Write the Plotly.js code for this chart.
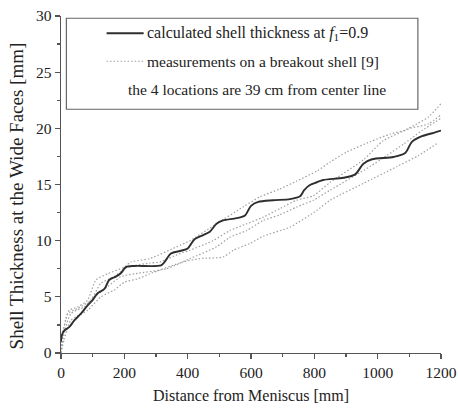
<!DOCTYPE html>
<html>
<head>
<meta charset="utf-8">
<script src="https://cdn.plot.ly/plotly-3.0.1.min.js"></script>
<style>html,body{margin:0;padding:0;background:#fff;}#chart{width:458px;height:411px;}</style>
</head>
<body>
<div id="chart"></div>
<script>
// Calculated shell thickness (solid line)
const calcX = [0, 3, 10, 26, 42, 63, 84, 100, 115, 137, 152, 173, 189, 205, 232, 316, 327, 347, 379, 400, 421, 449, 470, 491, 512, 554, 581, 600, 623, 670, 723, 755, 768, 786, 808, 828, 892, 929, 955, 982, 1050, 1087, 1108, 1140, 1177, 1200];
const calcY = [1.0, 1.6, 2.0, 2.3, 2.9, 3.5, 4.25, 4.7, 5.3, 5.7, 6.5, 6.8, 7.1, 7.65, 7.75, 7.8, 8.1, 8.85, 9.1, 9.3, 10.1, 10.5, 10.8, 11.5, 11.8, 12.0, 12.25, 13.1, 13.45, 13.6, 13.7, 13.95, 14.5, 14.95, 15.2, 15.4, 15.6, 15.9, 16.85, 17.25, 17.45, 17.8, 18.8, 19.3, 19.6, 19.8];

// Measurements on a breakout shell, 4 locations (dotted lines)
const meas1X = [0, 5, 15, 26, 52, 84, 110, 147, 200, 221, 280, 365, 407, 491, 575, 628, 691, 744, 808, 850, 903, 976, 1040, 1082, 1124, 1160, 1200];
const meas1Y = [0, 1.8, 2.9, 3.8, 4.1, 4.7, 6.5, 7.05, 7.65, 8.1, 8.4, 9.45, 10.0, 11.5, 13.0, 13.9, 14.6, 15.3, 16.2, 17.0, 17.9, 18.8, 19.5, 19.8, 20.4, 21.0, 22.2];
const meas2X = [0, 5, 21, 52, 94, 126, 168, 211, 280, 312, 375, 407, 480, 533, 586, 639, 691, 744, 797, 850, 955, 1018, 1103, 1160, 1200];
const meas2Y = [0, 1.5, 3.5, 3.95, 4.7, 6.2, 6.8, 7.65, 8.0, 8.1, 8.85, 9.15, 10.0, 10.9, 11.5, 12.1, 12.85, 13.6, 14.0, 15.2, 17.2, 18.9, 20.0, 20.4, 21.2];
const meas3X = [0, 8, 31, 73, 105, 147, 189, 232, 333, 407, 491, 533, 586, 639, 691, 744, 797, 850, 976, 1030, 1082, 1140, 1200];
const meas3Y = [0, 1.5, 3.5, 4.1, 5.0, 5.9, 6.8, 7.05, 7.5, 8.4, 9.45, 10.3, 10.9, 11.8, 12.3, 13.0, 13.6, 14.5, 16.6, 17.6, 18.6, 19.8, 20.9];
const meas4X = [0, 10, 31, 84, 126, 168, 200, 242, 280, 385, 438, 512, 545, 596, 639, 723, 808, 850, 955, 1061, 1130, 1190];
const meas4Y = [0, 1.2, 2.9, 3.8, 5.0, 5.6, 6.3, 6.6, 7.05, 8.1, 8.4, 8.55, 9.15, 9.75, 10.4, 11.2, 12.7, 13.6, 15.1, 16.6, 17.6, 18.7];

const xTicks = [0, 200, 400, 600, 800, 1000, 1200];
const yTicks = [0, 5, 10, 15, 20, 25, 30];

const legendCalc = 'calculated shell thickness at <i>f</i><sub>1</sub>=0.9';
const legendMeas = 'measurements on a breakout shell [9]';
const legendNote = 'the 4 locations are 39 cm from center line';
const xTitle = 'Distance from Meniscus [mm]';
const yTitle = 'Shell Thickness at the Wide Faces [mm]';

const FONT = '"Liberation Serif", "Times New Roman", Times, serif';
const dotStyle = {color: '#a0a0a0', width: 1.2, dash: '1.5px,2px'};

const measSets = [[meas1X, meas1Y], [meas2X, meas2Y], [meas3X, meas3Y], [meas4X, meas4Y]];
const traces = measSets.map(([x, y]) => ({
  x: x, y: y, type: 'scatter', mode: 'lines',
  line: Object.assign({shape: 'spline', smoothing: 0.6}, dotStyle),
  hoverinfo: 'skip'
}));
traces.push({
  x: calcX, y: calcY, type: 'scatter', mode: 'lines',
  line: {color: '#2e2e2e', width: 1.9, shape: 'spline', smoothing: 0.8},
  hoverinfo: 'skip'
});

const axisCommon = {
  showgrid: false, zeroline: false, showline: true, linecolor: '#555', linewidth: 1.3,
  ticks: 'outside', ticklen: 5, tickwidth: 1.3, tickcolor: '#555',
  tickfont: {family: FONT, size: 15.5, color: '#222'},
  fixedrange: true
};

const layout = {
  width: 458, height: 411,
  margin: {l: 61, r: 17, t: 16, b: 58},
  paper_bgcolor: '#fff', plot_bgcolor: '#fff',
  font: {family: FONT, color: '#222'},
  showlegend: false,
  xaxis: Object.assign({}, axisCommon, {
    range: [0, 1200], tickvals: xTicks, ticktext: xTicks.map(String),
    minor: {dtick: 100, tick0: 0, ticks: 'outside', ticklen: 3, tickcolor: '#555', tickwidth: 1.2},
    title: {text: xTitle, font: {family: FONT, size: 16, color: '#222'}, standoff: 10}
  }),
  yaxis: Object.assign({}, axisCommon, {
    range: [0, 30], tickvals: yTicks, ticktext: yTicks.map(String),
    minor: {dtick: 2.5, tick0: 0, ticks: 'outside', ticklen: 3, tickcolor: '#555', tickwidth: 1.2}
  }),
  shapes: [
    {type: 'rect', xref: 'x', yref: 'y', x0: 17, x1: 1127, y0: 21.7, y1: 29.8,
     line: {color: '#666', width: 1.2}, fillcolor: 'rgba(0,0,0,0)'},
    {type: 'line', xref: 'x', yref: 'y', x0: 144, x1: 261, y0: 28.47, y1: 28.47,
     line: {color: '#2e2e2e', width: 1.9}},
    {type: 'line', xref: 'x', yref: 'y', x0: 144, x1: 261, y0: 25.97, y1: 25.97,
     line: dotStyle}
  ],
  annotations: [
    {xref: 'paper', yref: 'paper', x: -0.1146, y: 0.466, text: yTitle, textangle: -90, showarrow: false,
     xanchor: 'center', yanchor: 'middle', font: {family: FONT, size: 19, color: '#222'}},
    {xref: 'x', yref: 'y', x: 264, y: 28.47, text: legendCalc, showarrow: false,
     xanchor: 'left', yanchor: 'middle', font: {family: FONT, size: 16, color: '#222'}},
    {xref: 'x', yref: 'y', x: 264, y: 25.97, text: legendMeas, showarrow: false,
     xanchor: 'left', yanchor: 'middle', font: {family: FONT, size: 15.5, color: '#222'}},
    {xref: 'x', yref: 'y', x: 619, y: 23.48, text: legendNote, showarrow: false,
     xanchor: 'center', yanchor: 'middle', font: {family: FONT, size: 15.5, color: '#222'}}
  ]
};

Plotly.newPlot('chart', traces, layout, {staticPlot: true, displayModeBar: false});
</script>
</body>
</html>
